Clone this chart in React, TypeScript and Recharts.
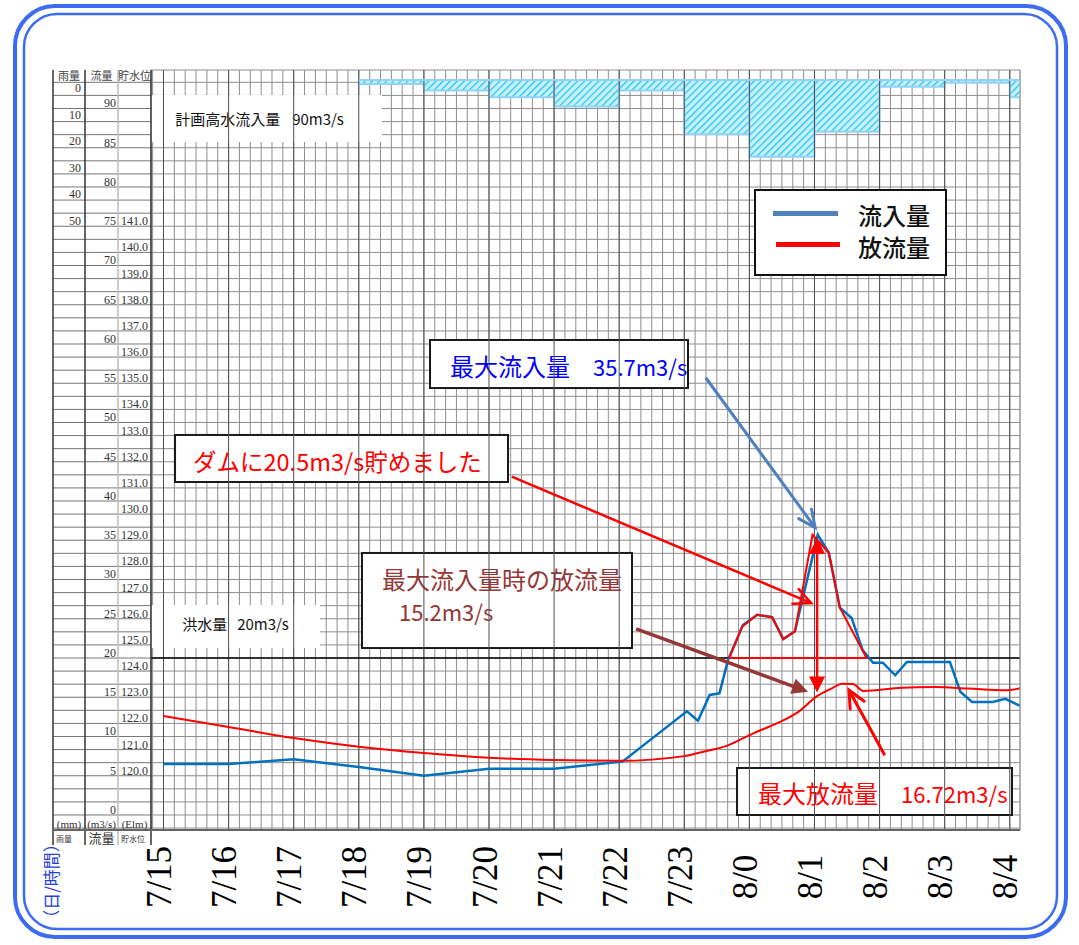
import React from 'react';
import {
  ComposedChart,
  Line,
  Area,
  XAxis,
  YAxis,
  CartesianGrid,
  ReferenceLine,
  ReferenceArea,
  Legend,
} from 'recharts';

// time axis: hours counted from 7/15 (7/15 = 0 ... 8/4 = 13)
const HOUR_TICKS = [0, 1, 2, 3, 4, 5, 6, 7, 8, 9, 10, 11, 12, 13];
const HOUR_LABELS = ['7/15', '7/16', '7/17', '7/18', '7/19', '7/20', '7/21', '7/22', '7/23', '8/0', '8/1', '8/2', '8/3', '8/4'];

// 流入量 (m3/s)
const INFLOW_T = [0, 1, 2, 3, 4, 5, 6, 7.05, 8.04, 8.21, 8.39, 8.54, 8.67, 8.9, 9.12, 9.35, 9.52, 9.7, 10.05, 10.22, 10.39, 10.57, 10.74, 10.9, 11.05, 11.24, 11.42, 12.08, 12.24, 12.42, 12.74, 12.93, 13.11, 13.19];
const INFLOW_Q = [6.5, 6.5, 7.1, 6.1, 5.0, 5.9, 5.9, 6.8, 13.2, 12.0, 15.3, 15.5, 19.7, 24.2, 25.5, 25.2, 22.4, 23.4, 35.7, 33.4, 26.4, 25.1, 21.0, 19.4, 19.4, 17.8, 19.5, 19.5, 15.7, 14.4, 14.4, 14.8, 14.1, 13.8];

// 放流量 (m3/s)
const RELEASE_T = [0, 1, 2, 3, 4, 5, 6, 7, 8, 8.26, 8.65, 9.06, 9.43, 9.73, 10.05, 10.28, 10.42, 10.59, 10.75, 11.34, 11.85, 12.37, 12.96, 13.19];
const RELEASE_Q = [12.6, 11.2, 9.8, 8.7, 7.9, 7.3, 7.0, 6.9, 7.5, 8.0, 8.8, 10.4, 11.7, 13.0, 15.2, 16.2, 16.72, 16.7, 15.8, 16.2, 16.3, 16.1, 15.9, 16.2];

// outline of the stored volume (inflow above 20m3/s), closed along 20
const STORED_T = [8.69, 8.89, 9.12, 9.35, 9.52, 9.7, 9.97, 10.22, 10.39, 10.8, 8.69];
const STORED_Q = [20, 24.0, 25.5, 25.2, 22.4, 23.4, 35.7, 33.4, 26.4, 20, 20];

// 雨量 (mm), one value per hour starting at RAIN_START
const RAIN_START = [3, 4, 5, 6, 7, 8, 9, 10, 11, 12, 13];
const RAIN_MM = [1.5, 4, 6.5, 10, 4, 20.5, 29, 19.5, 2.5, 1, 6.5];

// axis ticks
const FLOW_TICKS = [0, 5, 10, 15, 20, 25, 30, 35, 40, 45, 50, 55, 60, 65, 70, 75, 80, 85, 90];
const LEVEL_TICKS = [120, 121, 122, 123, 124, 125, 126, 127, 128, 129, 130, 131, 132, 133, 134, 135, 136, 137, 138, 139, 140, 141];
const RAIN_TICKS = [0, 10, 20, 30, 40, 50];

const X_DOMAIN = [-0.192, 13.157];
const FLOW_DOMAIN = [-1.911, 94.904];
const LEVEL_DOMAIN = [117.927, 146.971];
const RAIN_DOMAIN = [-3.774, 283];

// paper grid: 10 minute columns, rows of 5/3 m3/s
const GRID_T = Array.from({ length: 80 }, (_, k) => (k - 1) / 6);
const GRID_Q = Array.from({ length: 58 }, (_, k) => ((k - 1) * 5) / 3);

const inflowData = INFLOW_T.map((t, i) => ({ t, q: INFLOW_Q[i] }));
const releaseData = RELEASE_T.map((t, i) => ({ t, q: RELEASE_Q[i] }));
const storedData = STORED_T.map((t, i) => ({ t, q: STORED_Q[i] }));
const rainData = RAIN_START.flatMap((s, i) => [
  { t: s, r: 0 },
  { t: s, r: RAIN_MM[i] },
  { t: s + 1, r: RAIN_MM[i] },
  { t: s + 1, r: 0 },
]);

const JP = '"Noto Sans CJK JP", "Noto Sans", sans-serif';
const SERIF = '"Liberation Serif", serif';
const RED = '#ff0000';
const BROWN = '#953735';

// axis ids (ordered so that the grid sits next to the plot, rain farthest out)
const Y_GRID = 'a_grid';
const Y_LEVEL = 'b_level';
const Y_FLOW = 'c_flow';
const Y_RAIN = 'd_rain';

// annotation boxes (data coords) and their texts
const BOXES = [
  { x1: -0.19, x2: 3.356, y1: 85.73, y2: 91.72, border: false, texts: [
    { s: '計画高水流入量', dx: 24, dy: 30, size: 15, color: '#111' },
    { s: '90m3/s', dx: 141, dy: 30, size: 15, color: '#111' },
  ] },
  { x1: -0.19, x2: 2.404, y1: 21.27, y2: 26.75, border: false, texts: [
    { s: '洪水量', dx: 31, dy: 25, size: 15, color: '#111' },
    { s: '20m3/s', dx: 86, dy: 25, size: 15, color: '#111' },
  ] },
  { x1: 4.094, x2: 8.057, y1: 54.39, y2: 60.51, border: true, texts: [
    { s: '最大流入量', dx: 20, dy: 36, size: 24, color: '#0000ff' },
    { s: '35.7m3/s', dx: 163, dy: 36, size: 22, color: '#0000ff' },
  ] },
  { x1: 0.177, x2: 5.292, y1: 42.42, y2: 48.41, border: true, texts: [
    { s: 'ダムに20.5m3/s貯めました', dx: 18, dy: 36, size: 23.5, color: RED },
  ] },
  { x1: 3.049, x2: 7.197, y1: 21.27, y2: 33.38, border: true, texts: [
    { s: '最大流入量時の放流量', dx: 20, dy: 36, size: 24, color: BROWN },
    { s: '15.2m3/s', dx: 37, dy: 68, size: 22, color: BROWN },
  ] },
  { x1: 8.81, x2: 13.034, y1: 0, y2: 5.99, border: true, texts: [
    { s: '最大放流量', dx: 21, dy: 35, size: 24, color: RED },
    { s: '16.72m3/s', dx: 164, dy: 35, size: 22, color: RED },
  ] },
];

// arrows (data coords)
const ARROWS = [
  { from: [8.33, 55.7], to: [10.01, 36.6], color: '#4f81bd', w: 3, head: 'open', both: false },
  { from: [5.35, 43.1], to: [9.95, 27.0], color: RED, w: 2.5, head: 'open', both: false },
  { from: [7.26, 23.7], to: [9.9, 15.7], color: BROWN, w: 3.5, head: 'solid', both: false },
  { from: [10.04, 15.6], to: [10.04, 35.3], color: RED, w: 2.5, head: 'solid', both: true },
  { from: [11.08, 7.6], to: [10.53, 15.9], color: RED, w: 3, head: 'open', both: false },
];

function arrowShape(color: string, w: number, head: string, both: boolean) {
  return (p: any) => {
    const { x1, y1, x2, y2 } = p;
    const ang = Math.atan2(y2 - y1, x2 - x1);
    const L = head === 'open' ? 17 : 16;
    const H = 8;
    const tip = (tx: number, ty: number, a: number, key: string) => {
      const bx = tx - L * Math.cos(a);
      const by = ty - L * Math.sin(a);
      const px = -Math.sin(a) * H;
      const py = Math.cos(a) * H;
      const pts = `${bx + px},${by + py} ${tx},${ty} ${bx - px},${by - py}`;
      return head === 'open' ? (
        <polyline key={key} points={pts} fill="none" stroke={color} strokeWidth={w} strokeLinecap="round" />
      ) : (
        <polygon key={key} points={pts} fill={color} />
      );
    };
    const cut = head === 'solid' ? L * 0.8 : 0;
    const ex = x2 - cut * Math.cos(ang);
    const ey = y2 - cut * Math.sin(ang);
    const sx = both ? x1 + cut * Math.cos(ang) : x1;
    const sy = both ? y1 + cut * Math.sin(ang) : y1;
    return (
      <g>
        <line x1={sx} y1={sy} x2={ex} y2={ey} stroke={color} strokeWidth={w} />
        {tip(x2, y2, ang, 'a')}
        {both && tip(x1, y1, ang + Math.PI, 'b')}
      </g>
    );
  };
}

function boxShape(border: boolean, texts: any[]) {
  return (p: any) => (
    <g>
      <rect x={p.x} y={p.y} width={p.width} height={p.height} fill="#fff" stroke={border ? '#1a1a1a' : 'none'} strokeWidth={2} />
      {texts.map((t, i) => (
        <text key={i} x={p.x + t.dx} y={p.y + t.dy} fontSize={t.size} fill={t.color} fontFamily={JP}>
          {t.s}
        </text>
      ))}
    </g>
  );
}

const HourTick = (props: any) => {
  const { x, y, payload } = props;
  const label = HOUR_LABELS[HOUR_TICKS.indexOf(payload.value)];
  return (
    <text transform={`translate(${x - 4},${y + 47}) rotate(-90)`} textAnchor="middle" dy="0.33em" fontFamily={SERIF} fontSize={35} fill="#000">
      {label}
    </text>
  );
};

const FlowTick = (props: any) => (
  <text x={props.x} y={props.y - 1} textAnchor="end" fontFamily={SERIF} fontSize={12} fill="#333">
    {props.payload.value}
  </text>
);

const LevelTick = (props: any) => (
  <text x={props.x} y={props.y - 1} textAnchor="end" fontFamily={SERIF} fontSize={12} fill="#333">
    {Number(props.payload.value).toFixed(1)}
  </text>
);

const RainTick = (props: any) => (
  <text x={props.x} y={props.y + 12} textAnchor="end" fontFamily={SERIF} fontSize={12} fill="#333">
    {props.payload.value}
  </text>
);

const LegendBox = () => (
  <div style={{ position: 'relative', width: 193, height: 87, boxSizing: 'border-box', border: '2px solid #111', background: '#fff', fontFamily: JP, fontSize: 24, fontWeight: 500, color: '#111' }}>
    <div style={{ position: 'absolute', left: 17, top: 20, width: 65, height: 5, background: '#4f81bd' }} />
    <div style={{ position: 'absolute', left: 102, top: 8, lineHeight: '32px' }}>流入量</div>
    <div style={{ position: 'absolute', left: 20, top: 51, width: 64, height: 5, background: RED }} />
    <div style={{ position: 'absolute', left: 102, top: 40, lineHeight: '32px' }}>放流量</div>
  </div>
);

const FRAME = '#3d6cf2';

function Overlay() {
  return (
    <svg width={1079} height={945} style={{ position: 'absolute', left: 0, top: 0, pointerEvents: 'none' }}>
      <rect x={15} y={6} width={1051} height={931} rx={40} fill="none" stroke={FRAME} strokeWidth={4} />
      <rect x={24} y={14} width={1033} height={915} rx={33} fill="none" stroke={FRAME} strokeWidth={2.5} />
      {/* left table */}
      <line x1={53} y1={70} x2={53} y2={845} stroke="#333" strokeWidth={1.5} />
      <line x1={85} y1={70} x2={85} y2={845} stroke="#333" strokeWidth={1.5} />
      <line x1={118} y1={70} x2={118} y2={845} stroke="#bbb" strokeWidth={1.5} />
      <line x1={151} y1={70} x2={151} y2={845} stroke="#333" strokeWidth={1.5} />
      <line x1={53} y1={830} x2={1020} y2={830} stroke="#666" strokeWidth={2} />
      <line x1={1020} y1={70} x2={1020} y2={830} stroke="#999" strokeWidth={1} />
      <g fontFamily={JP} fontSize={11} fill="#444" textAnchor="middle">
        <text x={69} y={80}>雨量</text>
        <text x={101.5} y={80}>流量</text>
        <text x={134.5} y={80}>貯水位</text>
      </g>
      <g fontFamily={SERIF} fontSize={11} fill="#333" textAnchor="middle">
        <text x={69} y={828}>(mm)</text>
        <text x={101.5} y={828}>(m3/s)</text>
        <text x={134.5} y={828}>(Elm)</text>
      </g>
      <g fontFamily={JP} fill="#333">
        <text x={56} y={842} fontSize={8}>雨量</text>
        <text x={101.5} y={843} fontSize={13} textAnchor="middle">流量</text>
        <text x={121} y={842} fontSize={8}>貯水位</text>
      </g>
      <text transform="translate(52,881) rotate(-90)" textAnchor="middle" dy="0.35em" fontFamily={JP} fontSize={17} fill="#2a3fd6">
        （日/時間）
      </text>
    </svg>
  );
}

export default function App() {
  return (
    <div style={{ position: 'absolute', left: 0, top: 0, width: 1079, height: 945, background: '#fff' }}>
      <svg width={0} height={0} style={{ position: 'absolute' }}>
        <defs>
          <pattern id="hatch" width={5} height={5} patternUnits="userSpaceOnUse" patternTransform="rotate(45)">
            <rect width={5} height={5} fill="#c6f1fd" />
            <line x1={0} y1={0} x2={0} y2={5} stroke="#22c6f0" strokeWidth={2.5} />
          </pattern>
        </defs>
      </svg>
      <ComposedChart width={1079} height={945} margin={{ top: 70, right: 59, bottom: 35, left: 53 }} style={{ fontFamily: SERIF }}>
        <CartesianGrid xAxisId="grid" yAxisId={Y_GRID} stroke="#8e8e8e" strokeWidth={1} />
        <XAxis
          dataKey="t"
          type="number"
          domain={X_DOMAIN}
          allowDataOverflow
          ticks={HOUR_TICKS}
          interval={0}
          tick={HourTick}
          tickLine={false}
          axisLine={false}
          tickSize={0}
          tickMargin={0}
          height={80}
        />
        <XAxis xAxisId="grid" dataKey="t" type="number" domain={X_DOMAIN} allowDataOverflow ticks={GRID_T} interval={0} hide />
        <YAxis
          yAxisId={Y_GRID}
          type="number"
          domain={FLOW_DOMAIN}
          allowDataOverflow
          ticks={GRID_Q}
          interval={0}
          width={1}
          tickSize={98}
          tickLine={{ stroke: '#777', strokeWidth: 1 }}
          axisLine={false}
          tick={() => <g />}
        />
        <YAxis yAxisId={Y_LEVEL} type="number" domain={LEVEL_DOMAIN} allowDataOverflow ticks={LEVEL_TICKS} interval={0} width={32} tickSize={0} tickMargin={2} tickLine={false} axisLine={false} tick={LevelTick} />
        <YAxis yAxisId={Y_FLOW} type="number" domain={FLOW_DOMAIN} allowDataOverflow ticks={FLOW_TICKS} interval={0} width={33} tickSize={0} tickMargin={2} tickLine={false} axisLine={false} tick={FlowTick} />
        <YAxis yAxisId={Y_RAIN} type="number" domain={RAIN_DOMAIN} allowDataOverflow reversed ticks={RAIN_TICKS} interval={0} width={32} tickSize={0} tickMargin={4} tickLine={false} axisLine={false} tick={RainTick} />

        {HOUR_TICKS.map((h) => (
          <ReferenceLine key={`h${h}`} x={h} yAxisId={Y_FLOW} stroke="#505050" strokeWidth={1} />
        ))}
        <ReferenceLine yAxisId={Y_FLOW} y={20} stroke="#000" strokeWidth={1.5} />

        <Area
          yAxisId={Y_RAIN}
          data={rainData}
          dataKey="r"
          type="linear"
          stroke="#93d3f7"
          strokeWidth={2}
          fill="url(#hatch)"
          fillOpacity={1}
          dot={false}
          activeDot={false}
          isAnimationActive={false}
        />
        <ReferenceLine yAxisId={Y_RAIN} segment={[{ x: 3, y: 0 }, { x: 13.15, y: 0 }]} stroke="#93d3f7" strokeWidth={2} />

        {BOXES.map((b, i) => (
          <ReferenceArea key={`b${i}`} yAxisId={Y_FLOW} x1={b.x1} x2={b.x2} y1={b.y1} y2={b.y2} shape={boxShape(b.border, b.texts)} />
        ))}

        <Line yAxisId={Y_FLOW} data={inflowData} dataKey="q" name="流入量" type="linear" stroke="#0070c0" strokeWidth={2.5} dot={false} activeDot={false} isAnimationActive={false} />
        <Line yAxisId={Y_FLOW} data={releaseData} dataKey="q" name="放流量" type="monotone" stroke={RED} strokeWidth={2} dot={false} activeDot={false} isAnimationActive={false} />
        <Line yAxisId={Y_FLOW} data={storedData} dataKey="q" name="貯留" legendType="none" type="linear" stroke={RED} strokeWidth={2} dot={false} activeDot={false} isAnimationActive={false} />

        {ARROWS.map((a, i) => (
          <ReferenceLine
            key={`a${i}`}
            yAxisId={Y_FLOW}
            segment={[{ x: a.from[0], y: a.from[1] }, { x: a.to[0], y: a.to[1] }]}
            shape={arrowShape(a.color, a.w, a.head, a.both)}
          />
        ))}

        <Legend
          layout="vertical"
          align="center"
          verticalAlign="middle"
          wrapperStyle={{ left: 754, top: 189, width: 193, height: 87, margin: 0 }}
          content={LegendBox}
        />
      </ComposedChart>
      <Overlay />
    </div>
  );
}
